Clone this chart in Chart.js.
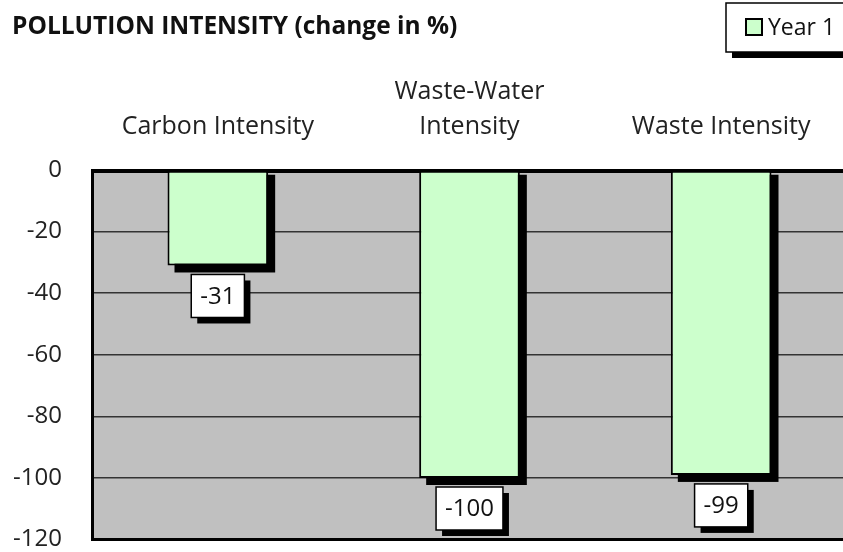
<!DOCTYPE html>
<html>
<head>
<meta charset="utf-8">
<script src="https://cdn.jsdelivr.net/npm/chart.js@4/dist/chart.umd.min.js"></script>
<style>
  html, body { margin: 0; padding: 0; background: #fff; overflow: hidden; }
  #wrap { width: 850px; height: 552px; overflow: hidden; }
</style>
</head>
<body>
<div id="wrap"><canvas id="chart" width="850" height="584"></canvas></div>
<script>
const categories = ['Carbon Intensity', ['Waste-Water', 'Intensity'], 'Waste Intensity'];
const yearOne = [-31, -100, -99];
const seriesName = 'Year 1';
const chartTitle = 'POLLUTION INTENSITY (change in %)';
const yMin = -120, yMax = 0, yStep = 20;

const FONT = '"Open Sans", Lato, sans-serif';

// grey plot background + thick frame
const plotFrame = {
    id: 'plotFrame',
    beforeDraw(chart) {
        const { ctx, chartArea: a } = chart;
        ctx.save();
        ctx.fillStyle = '#c0c0c0';
        ctx.fillRect(a.left, a.top, a.right - a.left, a.bottom - a.top);
        ctx.restore();
    },
    beforeDatasetsDraw(chart) {
        const { ctx, chartArea: a } = chart;
        ctx.save();
        ctx.strokeStyle = '#000';
        ctx.lineWidth = 4;
        ctx.beginPath();
        ctx.moveTo(a.left - 1, a.top + 1);
        ctx.lineTo(a.right, a.top + 1);
        ctx.stroke();
        ctx.lineWidth = 3;
        ctx.beginPath();
        ctx.moveTo(a.left + 0.5, a.top);
        ctx.lineTo(a.left + 0.5, a.bottom);
        ctx.lineTo(a.right, a.bottom);
        ctx.stroke();

        // hard drop shadow under each bar, taken from the bar elements
        ctx.fillStyle = '#000';
        chart.getDatasetMeta(0).data.forEach(bar => {
            const left = bar.x - bar.width / 2;
            ctx.fillRect(left + 7, bar.base + 4, bar.width, bar.y - bar.base + 3);
        });
        ctx.restore();
    }
};

function shadowBox(ctx, x, y, w, h) {
    ctx.fillStyle = '#000';
    ctx.fillRect(x + 6, y + 6, w, h);
    ctx.fillStyle = '#fff';
    ctx.fillRect(x, y, w, h);
    ctx.strokeStyle = '#000';
    ctx.lineWidth = 1.5;
    ctx.strokeRect(x, y, w, h);
}

// value labels in white boxes, title and legend
const decorations = {
    id: 'decorations',
    afterDatasetsDraw(chart) {
        const ctx = chart.ctx;
        const meta = chart.getDatasetMeta(0);
        ctx.save();
        ctx.font = '24px ' + FONT;
        ctx.textAlign = 'center';
        ctx.textBaseline = 'middle';
        meta.data.forEach((bar, i) => {
            const txt = String(chart.data.datasets[0].data[i]);
            const w = ctx.measureText(txt).width + 18;
            const h = 43;
            const top = bar.y + 9;
            shadowBox(ctx, bar.x - w / 2, top, w, h);
            ctx.fillStyle = '#111';
            ctx.fillText(txt, bar.x, top + h / 2 + 1);
        });

        // title
        ctx.textAlign = 'left';
        ctx.font = 'bold 24.5px ' + FONT;
        ctx.fillStyle = '#111';
        ctx.fillText(chartTitle, 12, 27);

        // legend
        shadowBox(ctx, 726, 3, 124, 49);
        ctx.fillStyle = '#ccffcc';
        ctx.fillRect(746, 19, 16, 16);
        ctx.strokeStyle = '#000';
        ctx.lineWidth = 2;
        ctx.strokeRect(746, 19, 16, 16);
        ctx.font = '23px ' + FONT;
        ctx.fillStyle = '#111';
        ctx.fillText(chart.data.datasets[0].label, 768, 28);
        ctx.restore();
    }
};

new Chart(document.getElementById('chart'), {
    type: 'bar',
    data: {
        labels: categories,
        datasets: [{
            label: seriesName,
            data: yearOne,
            backgroundColor: '#ccffcc',
            borderColor: '#000',
            borderWidth: 2,
            borderSkipped: false,
            categoryPercentage: 1,
            barPercentage: 0.4
        }]
    },
    options: {
        responsive: false,
        animation: false,
        layout: { padding: { top: 0, right: 3, bottom: 10, left: 0 } },
        plugins: {
            legend: { display: false },
            title: { display: false },
            tooltip: { enabled: false }
        },
        scales: {
            x: {
                position: 'top',
                grid: { display: false, drawTicks: false },
                border: { display: false },
                ticks: {
                    color: '#222',
                    font: { family: FONT, size: 25, lineHeight: 1.4 },
                    padding: 26,
                    maxRotation: 0
                },
                afterFit(scale) { scale.height = 170; }
            },
            y: {
                min: yMin,
                max: yMax,
                grid: { color: '#333', lineWidth: 1.5, drawTicks: false },
                border: { display: false },
                ticks: {
                    stepSize: yStep,
                    color: '#222',
                    font: { family: FONT, size: 24 },
                    padding: 30
                },
                afterFit(scale) { scale.width = 92; }
            }
        }
    },
    plugins: [plotFrame, decorations]
});
</script>
</body>
</html>
